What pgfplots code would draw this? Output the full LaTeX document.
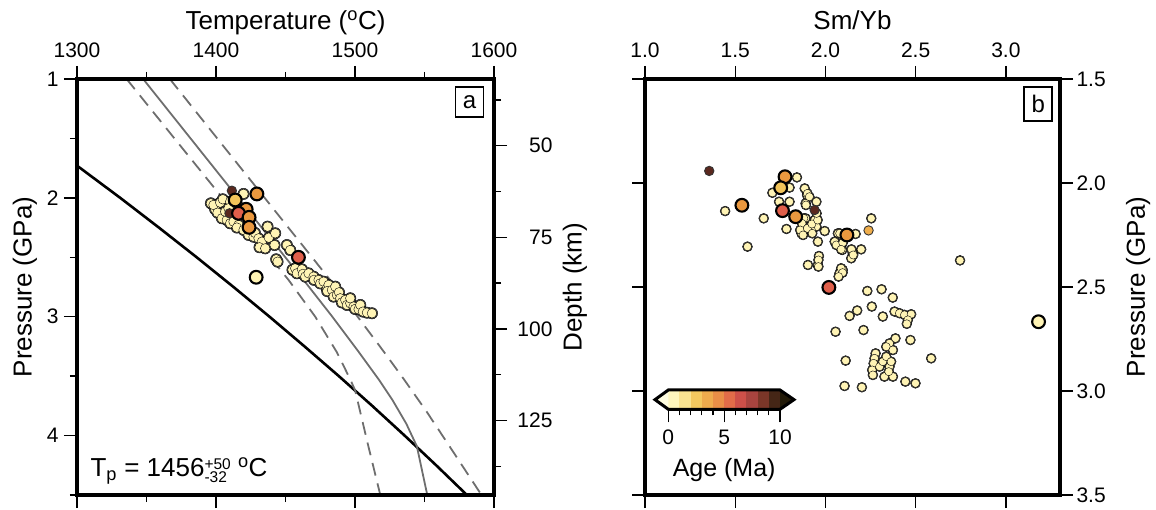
\documentclass[border=0pt]{standalone}
\usepackage{fontspec}
\setmainfont{Liberation Sans}
\usepackage{pgfplots}
\usepackage{pgfplotstable}
\pgfplotsset{compat=1.18}

\definecolor{pale}{HTML}{FFF4B5}
\definecolor{orng}{HTML}{EA983F}
\definecolor{yorng}{HTML}{F2C45A}
\definecolor{redd}{HTML}{E05F4B}
\definecolor{dbrown}{HTML}{5A281E}
\definecolor{oyel}{HTML}{F0AE4B}
\definecolor{lgrey}{HTML}{6E6E6E}
\definecolor{c0}{HTML}{FEF6BD}
\definecolor{c1}{HTML}{F9E391}
\definecolor{c2}{HTML}{F3C85F}
\definecolor{c3}{HTML}{EEAB4D}
\definecolor{c4}{HTML}{E98E47}
\definecolor{c5}{HTML}{E26C49}
\definecolor{c6}{HTML}{CD5049}
\definecolor{c7}{HTML}{A8443F}
\definecolor{c8}{HTML}{7A3628}
\definecolor{c9}{HTML}{452616}
\definecolor{ctl}{HTML}{FFFDE0}
\definecolor{ctr}{HTML}{221A08}

\newcommand\tickfont{\fontsize{21}{24}\selectfont}
\newcommand\labfont{\fontsize{26}{30}\selectfont}

% pale samples, panel a: temperature (C), pressure (GPa)
\pgfplotstableread{
T P
1396.3 2.046
1399.4 2.097
1398.2 2.060
1403.0 2.040
1404.9 2.012
1419.8 1.967
1401.1 2.125
1404.2 2.172
1407.8 2.186
1410.2 2.214
1412.6 2.200
1406.6 2.116
1410.2 2.032
1409.0 2.088
1416.2 2.228
1415.0 2.250
1419.8 2.270
1423.4 2.312
1427.0 2.327
1428.0 2.295
1430.6 2.341
1433.0 2.369
1431.3 2.416
1435.4 2.425
1438.0 2.335
1437.1 2.242
1442.6 2.298
1442.1 2.397
1443.3 2.517
1444.3 2.537
1451.0 2.397
1453.4 2.439
1455.0 2.605
1457.0 2.593
1458.2 2.635
1461.8 2.601
1462.5 2.640
1464.2 2.663
1466.6 2.635
1470.2 2.663
1470.5 2.690
1473.8 2.691
1475.0 2.720
1477.4 2.705
1479.8 2.761
1481.0 2.733
1480.0 2.785
1483.4 2.775
1484.6 2.831
1485.8 2.747
1487.0 2.817
1488.5 2.795
1489.4 2.845
1490.5 2.880
1493.0 2.859
1494.2 2.901
1496.6 2.887
1496.6 2.845
1499.0 2.915
1500.0 2.935
1502.6 2.938
1503.8 2.901
1505.7 2.957
1508.6 2.966
1512.2 2.971
}\paleA

% pale samples, panel b: Sm/Yb, pressure (GPa)
\pgfplotstableread{
S P
1.842 1.973
1.801 2.022
1.706 2.047
1.885 2.026
1.898 2.058
1.890 2.098
1.950 2.090
1.743 2.090
1.801 2.090
1.444 2.135
1.658 2.170
1.890 2.170
1.940 2.178
1.950 2.210
1.922 2.226
1.876 2.226
1.784 2.221
1.867 2.242
1.996 2.231
2.069 2.242
2.167 2.245
2.254 2.170
2.198 2.319
2.152 2.338
2.143 2.362
2.051 2.282
2.060 2.298
2.093 2.322
1.958 2.282
1.964 2.351
1.958 2.394
1.903 2.394
1.568 2.306
2.078 2.434
2.096 2.418
1.900 2.050
1.911 2.066
1.892 2.106
1.880 2.170
1.870 2.194
1.860 2.226
1.900 2.218
1.925 2.197
1.957 2.178
1.951 2.146
1.876 2.250
2.079 2.242
2.096 2.287
2.087 2.319
2.144 2.319
2.154 2.346
1.927 2.242
1.961 2.370
1.961 2.402
2.087 2.410
2.095 2.431
2.073 2.450
2.746 2.372
2.232 2.519
2.311 2.511
2.373 2.551
2.134 2.639
2.176 2.613
2.257 2.594
2.318 2.642
2.383 2.618
2.410 2.626
2.438 2.634
2.475 2.631
2.457 2.658
2.451 2.677
2.056 2.715
2.211 2.707
2.471 2.755
2.388 2.747
2.355 2.771
2.337 2.787
2.374 2.803
2.278 2.819
2.272 2.843
2.267 2.867
2.259 2.899
2.263 2.923
2.300 2.883
2.318 2.859
2.337 2.835
2.355 2.883
2.364 2.859
2.327 2.931
2.374 2.931
2.351 2.907
2.586 2.843
2.112 2.854
2.106 2.976
2.202 2.982
2.443 2.955
2.499 2.963
}\paleB

\pgfplotsset{
  gmt/.style={
    scale only axis, width=417pt, height=416pt,
    axis on top,
    axis line style={line width=4.2pt, line cap=rect},
    tick style={line width=1.3pt, black},
    tick align=outside,
    major tick length=13pt, minor tick length=7pt,
    tick label style={font=\tickfont, /pgf/number format/assume math mode=true, /pgf/number format/1000 sep={}},
    clip mode=individual,
    label style={font=\labfont},
  },
  ring/.style={only marks, mark=*, mark size=#1, mark options={fill=black!68, draw=none}},
  core/.style={only marks, mark=*, mark size=#1, mark options={fill=pale, draw=none}},
  bigp/.style={only marks, mark=*, mark size=6.4pt, mark options={fill=#1, draw=black, line width=2.1pt}},
  smallp/.style={only marks, mark=*, mark size=4.7pt, mark options={fill=#1, draw=black!80, line width=0.9pt}},
  adiabat/.style={lgrey, line width=1.8pt},
}

\begin{document}
\begin{tikzpicture}
\path[use as bounding box] (0,0) rectangle (1156pt,510pt);

% ---------------- panel a ----------------
\begin{axis}[gmt, at={(77pt,15pt)}, anchor=south west,
  xmin=1300, xmax=1600, ymin=1, ymax=4.5, y dir=reverse,
  xtick={1300,1400,1500,1600}, minor xtick={1350,1450,1550},
  ytick={1,2,3,4}, minor ytick={1.5,2.5,3.5,4.5},
  xtick pos=both, ytick pos=left, xticklabel pos=upper, yticklabel pos=left,
  xticklabel style={yshift=5pt}, yticklabel style={xshift=-2pt},
  xlabel={Temperature (\textsuperscript{o}C)},
  xlabel style={at={(axis description cs:0.5,1.1178)}, anchor=base},
  ylabel={Pressure (GPa)},
  ylabel style={at={(axis description cs:-0.125,0.5)}, anchor=center},
]
% solidus
\addplot[black, line width=2.6pt] coordinates {
(1300.0,1.729) (1331.1,2.0) (1358.9,2.25) (1386.1,2.5) (1412.6,2.75) (1438.5,3.0)
(1463.7,3.25) (1488.4,3.5) (1512.4,3.75) (1535.7,4.0) (1558.4,4.25) (1580.5,4.5)};
% adiabats
\addplot[adiabat] coordinates {
(1347.6,1.0) (1381.7,1.5) (1415.8,2.0) (1449.9,2.5) (1463.0,2.691) (1483.7,3.0)
(1502.9,3.3) (1517.2,3.53) (1526.9,3.7) (1536.9,3.9) (1544.5,4.09) (1552.0,4.5)};
\addplot[adiabat, dash pattern=on 13pt off 8pt] coordinates {
(1335.7,1.0) (1370.1,1.5) (1404.6,2.0) (1439.0,2.5) (1452.2,2.691) (1471.4,3.0)
(1487.0,3.3) (1496.7,3.53) (1500.1,3.62) (1509.2,4.07) (1518.2,4.5)};
\addplot[adiabat, dash pattern=on 13pt off 8pt] coordinates {
(1366.8,1.0) (1400.9,1.5) (1435.0,2.0) (1469.1,2.5) (1482.1,2.691) (1501.9,3.0)
(1521.1,3.3) (1535.4,3.53) (1551.6,3.8) (1568.0,4.09) (1591.0,4.5)};
% pale samples (outline pass, then fill pass)
\addplot[ring=5.7pt] table[x=T, y=P] {\paleA};
\addplot[core=4.8pt] table[x=T, y=P] {\paleA};
\addplot[smallp=dbrown] coordinates {(1411.4,1.940) (1409.7,2.130)};
\addplot[bigp=orng] coordinates {(1421.7,2.096)};
\addplot[bigp=redd] coordinates {(1416.2,2.130)};
\addplot[bigp=orng] coordinates {(1423.8,2.164) (1423.8,2.248) (1429.4,1.967)};
\addplot[bigp=yorng] coordinates {(1413.8,2.018)};
\addplot[bigp=redd] coordinates {(1459.3,2.500)};
\addplot[bigp=pale] coordinates {(1428.9,2.668)};
\node[draw, line width=1.5pt, fill=white, anchor=north east, font=\fontsize{24}{28}\selectfont,
  minimum width=28pt, minimum height=30pt, inner sep=2pt] at (axis description cs:0.977,0.983) {a};
\node[anchor=base west, font=\fontsize{26}{29}\selectfont, inner sep=0pt]
  at (axis description cs:0.032,0.044) {T\textsubscript{p} = 1456\fontsize{15.5}{15.5}\selectfont\begin{tabular}[c]{@{}l@{}}+50\\[-2.5pt]-32\end{tabular}\fontsize{26}{29}\selectfont\ \textsuperscript{o}C};
\end{axis}

% depth axis
\begin{axis}[gmt, at={(77pt,15pt)}, anchor=south west,
  xmin=1300, xmax=1600, ymin=31.8, ymax=145.3, y dir=reverse,
  axis x line=none, axis y line*=right,
  ytick={50,75,100,125}, minor ytick={37.5,62.5,87.5,112.5,137.5},
  yticklabel style={anchor=east, xshift=49pt},
  ylabel={Depth (km)},
  ylabel style={at={(axis description cs:1.194,0.5)}, anchor=center},
]
\addplot[draw=none] coordinates {(1300,50)};
\end{axis}

% ---------------- panel b ----------------
\begin{axis}[gmt, at={(645pt,15pt)}, anchor=south west, width=415pt,
  xmin=1, xmax=3.3, ymin=1.5, ymax=3.5, y dir=reverse,
  xtick={1,1.5,2,2.5,3}, ytick={1.5,2,2.5,3,3.5},
  xtick pos=both, ytick pos=both, xticklabel pos=upper, yticklabel pos=right,
  xticklabel style={yshift=5pt},
  tick label style={/pgf/number format/fixed, /pgf/number format/fixed zerofill, /pgf/number format/precision=1},
  xlabel={Sm/Yb},
  xlabel style={at={(axis description cs:0.5,1.1178)}, anchor=base},
  ylabel={Pressure (GPa)},
  ylabel style={at={(axis description cs:1.188,0.5)}, anchor=center},
]
\addplot[ring=5.0pt] table[x=S, y=P] {\paleB};
\addplot[core=4.1pt] table[x=S, y=P] {\paleB};
\addplot[smallp=dbrown] coordinates {(1.356,1.942) (1.940,2.130)};
\addplot[smallp=oyel] coordinates {(2.239,2.228)};
\addplot[bigp=orng] coordinates {(1.776,1.970) (1.537,2.107) (2.119,2.250)};
\addplot[bigp=yorng] coordinates {(1.752,2.023)};
\addplot[bigp=redd] coordinates {(1.762,2.133)};
\addplot[bigp=orng] coordinates {(1.835,2.162)};
\addplot[bigp=redd] coordinates {(2.019,2.502)};
\addplot[bigp=pale] coordinates {(3.181,2.667)};
\node[draw, line width=1.5pt, fill=white, anchor=north east, font=\fontsize{24}{28}\selectfont,
  minimum width=28pt, minimum height=34pt, inner sep=2pt] at (axis description cs:0.983,0.983) {b};
\end{axis}

% ---------------- colour bar ----------------
\begin{axis}[at={(668.3pt,100.7pt)}, anchor=south west, scale only axis,
  width=111.7pt, height=19.3pt,
  xmin=0, xmax=10, ymin=0, ymax=1, clip=false,
  axis y line=none, axis x line*=bottom, axis line style={draw=none},
  xtick={0,5,10}, minor xtick={1,2,3,4,6,7,8,9},
  tick align=outside, major tick length=13pt, minor tick length=6pt,
  tick style={line width=1.3pt, black},
  tick label style={font=\tickfont, /pgf/number format/assume math mode=true},
  xticklabel style={yshift=-4pt},
  xlabel={Age (Ma)},
  xlabel style={font=\fontsize{25}{28}\selectfont, at={(axis description cs:0.5,-3.49)}, anchor=base},
]
\addplot[fill=c0, draw=none] coordinates {(0,0)(1,0)(1,1)(0,1)} -- cycle;
\addplot[fill=c1, draw=none] coordinates {(1,0)(2,0)(2,1)(1,1)} -- cycle;
\addplot[fill=c2, draw=none] coordinates {(2,0)(3,0)(3,1)(2,1)} -- cycle;
\addplot[fill=c3, draw=none] coordinates {(3,0)(4,0)(4,1)(3,1)} -- cycle;
\addplot[fill=c4, draw=none] coordinates {(4,0)(5,0)(5,1)(4,1)} -- cycle;
\addplot[fill=c5, draw=none] coordinates {(5,0)(6,0)(6,1)(5,1)} -- cycle;
\addplot[fill=c6, draw=none] coordinates {(6,0)(7,0)(7,1)(6,1)} -- cycle;
\addplot[fill=c7, draw=none] coordinates {(7,0)(8,0)(8,1)(7,1)} -- cycle;
\addplot[fill=c8, draw=none] coordinates {(8,0)(9,0)(9,1)(8,1)} -- cycle;
\addplot[fill=c9, draw=none] coordinates {(9,0)(10,0)(10,1)(9,1)} -- cycle;
\addplot[fill=ctl, draw=none] coordinates {(0,0)(-1.19,0.5)(0,1)} -- cycle;
\addplot[fill=ctr, draw=none] coordinates {(10,0)(11.25,0.5)(10,1)} -- cycle;
\addplot[draw=black, line width=3pt, line join=miter] coordinates {(-1.19,0.5)(0,1)(10,1)(11.25,0.5)(10,0)(0,0)} -- cycle;
\end{axis}
\end{tikzpicture}
\end{document}
